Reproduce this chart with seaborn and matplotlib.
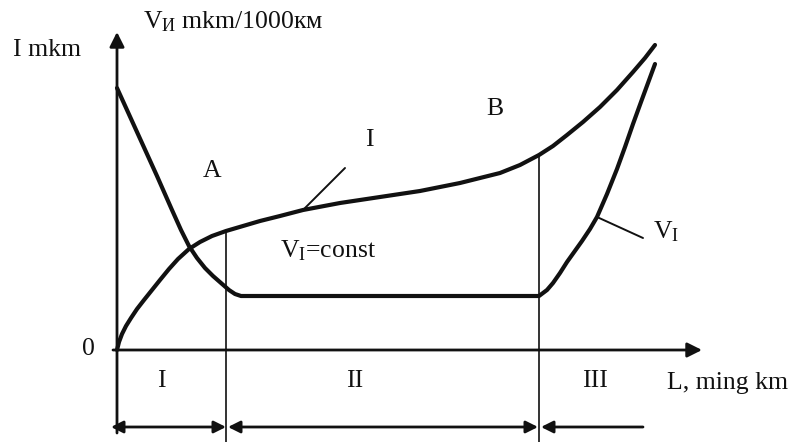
import numpy as np
import matplotlib
matplotlib.use("Agg")
import matplotlib.pyplot as plt
import seaborn as sns

# Wear curve I: accumulated wear versus mileage L
wear_L = [0, 2, 5, 9, 14, 20, 27, 35, 43, 52, 61, 72, 83, 95, 109, 126, 143, 163,
          186, 223, 263, 303, 343, 383, 403, 422, 436, 450, 466, 483, 500, 516, 528, 538]
wear_I = [0, 8, 16, 24, 32, 41, 50, 60, 70, 81, 91, 101, 108, 114, 119, 124, 129, 134,
          140, 147, 153, 159, 167, 177, 185, 195, 204, 215, 228, 243, 260, 278, 292, 305]

# Wear-rate curve V_I versus mileage L
rate_L = [0, 20, 40, 55, 64, 72, 80, 88, 96, 104, 112, 118, 124,
          422, 430, 436, 443, 450, 465, 473, 480, 490, 500, 508, 516, 524, 531, 538]
rate_V = [262, 218, 174, 140, 120, 104, 92, 82, 74, 67, 60, 56, 54,
          54, 60, 67, 77, 88, 109, 121, 133, 156, 181, 203, 226, 248, 267, 286]

# Stage boundaries along L and stage names
stage_bounds = [0, 109, 422, 526]
stage_names = ["I", "II", "III"]
stage_label_L = [44, 238, 478]

sns.set_theme(style="white")
plt.rcParams["font.family"] = ["Liberation Serif", "DejaVu Serif"]
plt.rcParams["mathtext.fontset"] = "custom"
plt.rcParams["mathtext.rm"] = "Liberation Serif"
plt.rcParams["mathtext.it"] = "Liberation Serif:italic"

ink = "#111111"
fs = 18.5

fig = plt.figure(figsize=(7.91, 4.42), dpi=100)
ax = fig.add_axes([0, 0, 1, 1])
ax.set_xlim(-117, 674)
ax.set_ylim(-92, 350)
ax.axis("off")

# Curves
curve_kw = dict(color=ink, lw=3.0, sort=False,
                solid_joinstyle="round", solid_capstyle="round")
sns.lineplot(x=wear_L, y=wear_I, ax=ax, **curve_kw)
sns.lineplot(x=rate_L, y=rate_V, ax=ax, **curve_kw)

# Coordinate axes with arrow heads
arr = dict(arrowstyle="-|>", color=ink, lw=2.0, mutation_scale=22,
           shrinkA=0, shrinkB=0)
ax.annotate("", xy=(0, 318), xytext=(0, -83), arrowprops=arr)
ax.annotate("", xy=(585, 0), xytext=(-4, 0), arrowprops=arr)

# Stage boundary verticals, from the wear curve down to the bottom edge
for b in stage_bounds[1:3]:
    top = np.interp(b, wear_L, wear_I)
    ax.plot([b, b], [top, -92], color=ink, lw=1.2)

# Stage extent arrows under the axis
y_arrow = -77
both = dict(arrowstyle="<|-|>", color=ink, lw=2.0, mutation_scale=18,
            shrinkA=0, shrinkB=0)
ax.annotate("", xy=(stage_bounds[1], y_arrow), xytext=(stage_bounds[0] - 6, y_arrow),
            arrowprops=both)
ax.annotate("", xy=(stage_bounds[2] - 1, y_arrow), xytext=(stage_bounds[1] + 2, y_arrow),
            arrowprops=both)
one = dict(arrowstyle="<|-", color=ink, lw=2.0, mutation_scale=18,
           shrinkA=0, shrinkB=0)
ax.annotate("", xy=(stage_bounds[3], y_arrow), xytext=(stage_bounds[2] + 2, y_arrow),
            arrowprops=one)

for name, lx in zip(stage_names, stage_label_L):
    ax.text(lx, -31, name, ha="center", va="center", fontsize=fs, color=ink)

# Leader lines to curve names
p = 186
ax.plot([p, 228], [np.interp(p, wear_L, wear_I), 182], color=ink, lw=1.4)
q = 480
ax.plot([q, 526], [np.interp(q, rate_L, rate_V), 112], color=ink, lw=1.4)

# Labels
ax.text(-70, 300, "I mkm", ha="center", va="center", fontsize=fs, color=ink)
ax.text(26, 328, r"V$_{\mathrm{И}}$ mkm/1000км", ha="left", va="center",
        fontsize=fs, color=ink)
ax.text(-29, 1, "0", ha="center", va="center", fontsize=fs, color=ink)
ax.text(95, 179, "A", ha="center", va="center", fontsize=fs, color=ink)
ax.text(252, 210, "I", ha="center", va="center", fontsize=fs, color=ink)
ax.text(378, 241, "B", ha="center", va="center", fontsize=fs, color=ink)
ax.text(163, 93, r"V$_{\mathrm{I}}$=const", ha="left", va="baseline",
        fontsize=fs, color=ink)
ax.text(536, 112, r"V$_{\mathrm{I}}$", ha="left", va="baseline",
        fontsize=fs, color=ink)
ax.text(550, -33, "L, ming km", ha="left", va="center", fontsize=fs, color=ink)

fig.savefig("out.png", dpi=100, facecolor="white")
